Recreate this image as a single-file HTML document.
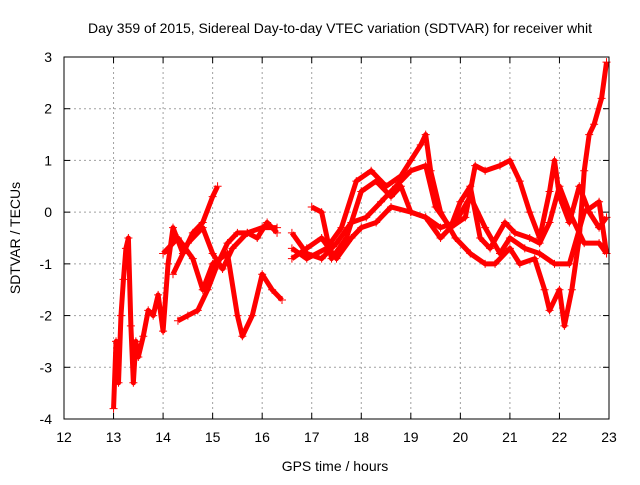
<!DOCTYPE html>
<html><head><meta charset="utf-8"><style>
body{margin:0;background:#fff;}
svg text{font-family:"Liberation Sans",sans-serif;}
</style></head><body>
<svg width="640" height="480" xmlns="http://www.w3.org/2000/svg">
<rect width="640" height="480" fill="#fff"/>
<text x="340" y="33" font-size="14" text-anchor="middle">Day 359 of 2015, Sidereal Day-to-day VTEC variation (SDTVAR) for receiver whit</text>
<g id="grid"></g>
<g id="ticks"></g>
<g id="series"></g>
<rect x="64" y="57" width="545" height="362" fill="none" stroke="#000" stroke-width="1"/>
<text x="335" y="471" font-size="14" text-anchor="middle">GPS time / hours</text>
<text x="20" y="238" font-size="14" text-anchor="middle" transform="rotate(-90 20 238)">SDTVAR / TECUs</text>
</svg>
<script>
const xTicks=[12,13,14,15,16,17,18,19,20,21,22,23];
const yTicks=[-4,-3,-2,-1,0,1,2,3];
const trace1=[[13.0,-3.8],[13.05,-2.5],[13.1,-3.3],[13.15,-2.0],[13.2,-1.3],[13.25,-0.7],[13.3,-0.5],[13.35,-2.2],[13.4,-3.3],[13.45,-2.5],[13.5,-2.8],[13.6,-2.4],[13.7,-1.9],[13.8,-2.0],[13.9,-1.6],[14.0,-2.3],[14.1,-1.0],[14.2,-0.3],[14.4,-0.8],[14.6,-0.4],[14.8,-0.2],[15.0,0.3],[15.1,0.5]];
const trace2=[[14.3,-2.1],[14.5,-2.0],[14.7,-1.9],[14.9,-1.5],[15.1,-1.0],[15.3,-0.6],[15.5,-0.4],[15.7,-0.4],[15.9,-0.5],[16.1,-0.2],[16.3,-0.4],null,[16.6,-0.9],[16.9,-0.7],[17.2,-0.5],[17.5,-0.9],[17.8,-0.5],[18.0,-0.3],[18.3,-0.2],[18.6,0.1],[19.0,0.0],[19.3,-0.1],[19.6,-0.3],[19.9,-0.2],[20.2,0.3],[20.5,-0.3],[20.8,-0.8],[21.0,-0.5],[21.3,-0.7],[21.6,-0.8],[21.9,-1.0],[22.2,-1.0],[22.5,0.0],[22.8,0.2],[22.95,-0.8]];
const trace3=[[14.0,-0.8],[14.3,-0.5],[14.6,-0.9],[14.8,-1.5],[15.0,-1.0],[15.3,-0.8],[15.5,-2.0],[15.6,-2.4],[15.8,-2.0],[16.0,-1.2],[16.2,-1.5],[16.4,-1.7],null,[16.6,-0.7],[16.9,-0.9],[17.3,-0.7],[17.6,-0.3],[17.9,0.6],[18.2,0.8],[18.5,0.5],[18.8,0.7],[19.0,1.0],[19.2,1.3],[19.3,1.5],[19.4,0.8],[19.6,0.0],[19.9,-0.5],[20.2,-0.8],[20.5,-1.0],[20.7,-1.0],[21.0,-0.7],[21.2,-1.0],[21.5,-0.9],[21.7,-1.5],[21.8,-1.9],[22.0,-1.5],[22.1,-2.2],[22.25,-1.5],[22.4,-0.5],[22.5,0.8],[22.6,1.5],[22.7,1.7],[22.85,2.2],[22.95,2.9]];
const trace4=[[14.2,-1.2],[14.5,-0.6],[14.8,-0.3],[15.0,-0.8],[15.2,-1.1],[15.4,-0.7],[15.7,-0.4],[16.0,-0.3],[16.3,-0.3],null,[17.0,0.1],[17.2,0.0],[17.4,-0.9],[17.7,-0.5],[18.0,0.4],[18.3,0.6],[18.6,0.3],[18.8,0.5],[19.0,0.0],[19.3,-0.1],[19.6,-0.5],[19.8,-0.3],[20.1,-0.1],[20.3,0.9],[20.5,0.8],[20.8,0.9],[21.0,1.0],[21.2,0.6],[21.4,0.0],[21.6,-0.5],[21.8,0.4],[21.9,1.0],[22.0,0.3],[22.2,-0.2],[22.4,0.5],[22.6,0.0],[22.8,-0.3],[22.95,-0.1]];
const trace5=[[16.6,-0.4],[16.9,-0.8],[17.2,-0.9],[17.5,-0.6],[17.8,-0.2],[18.1,-0.1],[18.4,0.2],[18.7,0.5],[19.0,0.8],[19.3,0.9],[19.5,0.1],[19.8,-0.3],[20.0,0.2],[20.2,0.5],[20.4,-0.5],[20.6,-0.7],[20.9,-0.2],[21.1,-0.4],[21.4,-0.5],[21.6,-0.6],[21.8,-0.2],[22.0,0.5],[22.2,0.0],[22.5,-0.6],[22.8,-0.6],[22.95,-0.8]];
const NS='http://www.w3.org/2000/svg';
const X0=64,X1=609,Y0=419,Y1=57;
function sx(v){return X0+(v-12)/(23-12)*(X1-X0);}
function sy(v){return Y0-(v+4)/(3+4)*(Y0-Y1);}
function mk(t,a){const e=document.createElementNS(NS,t);for(const k in a)e.setAttribute(k,a[k]);return e;}
const grid=document.getElementById('grid'),ticks=document.getElementById('ticks'),ser=document.getElementById('series');
xTicks.forEach(t=>{const x=sx(t);
 if(t>12&&t<23){const g=mk('line',{x1:x,x2:x,y1:Y1,y2:Y0,stroke:'#a0a0a0','stroke-dasharray':'2,3'});grid.appendChild(g);}
 const l=mk('line',{x1:x,x2:x,y1:Y0,y2:Y0-6,stroke:'#000'});ticks.appendChild(l);
 const l2=mk('line',{x1:x,x2:x,y1:Y1,y2:Y1+6,stroke:'#000'});ticks.appendChild(l2);
 const tx=mk('text',{x:x,y:442,'font-size':14,'text-anchor':'middle'});tx.textContent=t;ticks.appendChild(tx);});
yTicks.forEach(t=>{const y=sy(t);
 if(t>-4&&t<3){const g=mk('line',{x1:X0,x2:X1,y1:y,y2:y,stroke:'#a0a0a0','stroke-dasharray':'2,3'});grid.appendChild(g);}
 const l=mk('line',{x1:X0,x2:X0+6,y1:y,y2:y,stroke:'#000'});ticks.appendChild(l);
 const l2=mk('line',{x1:X1,x2:X1-6,y1:y,y2:y,stroke:'#000'});ticks.appendChild(l2);
 const tx=mk('text',{x:52,y:y+5,'font-size':14,'text-anchor':'end'});tx.textContent=t;ticks.appendChild(tx);});
[trace1,trace2,trace3,trace4,trace5].forEach((tr,i)=>{
 let segs=[[]];tr.forEach(p=>{if(p===null)segs.push([]);else segs[segs.length-1].push(p);});
 segs.forEach(s=>{if(s.length<2)return;
  const pl=mk('polyline',{points:s.map(p=>sx(p[0])+','+sy(p[1])).join(' '),fill:'none',stroke:'#ff0000','stroke-width':5,'stroke-linejoin':'round'});
  
  
  ser.appendChild(pl);});
 tr.forEach(p=>{if(!p)return;const x=sx(p[0]),y=sy(p[1]);
  const m=mk('path',{d:`M${x-4},${y}H${x+4}M${x},${y-4}V${y+4}`,stroke:'#ff0000','stroke-width':1});
  
  
  ser.appendChild(m);});
});
</script>
</body></html>
